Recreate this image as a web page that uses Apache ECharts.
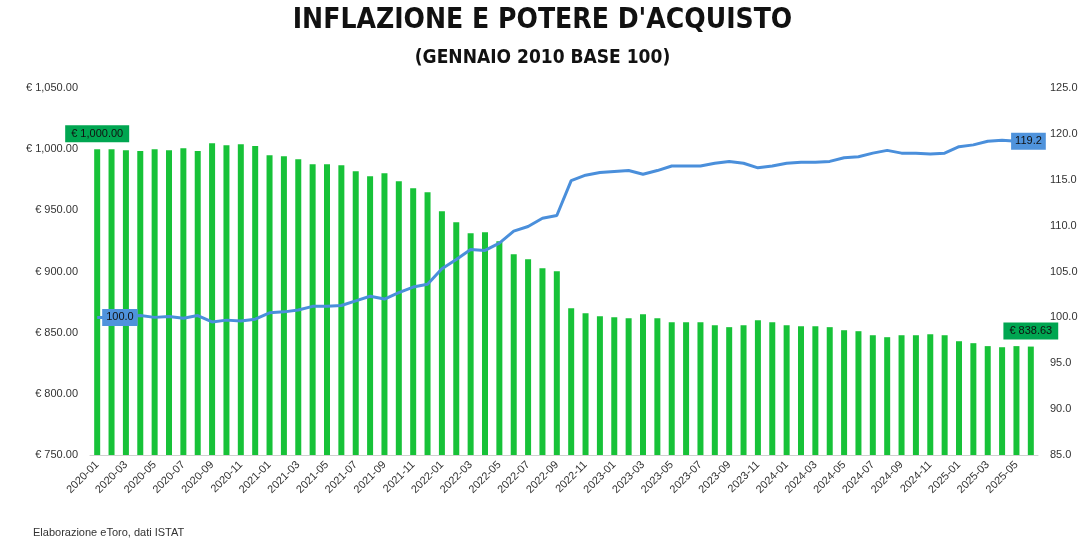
<!DOCTYPE html>
<html><head><meta charset="utf-8">
<script src="https://cdn.jsdelivr.net/npm/echarts@6/dist/echarts.min.js"></script>
<style>html,body{margin:0;padding:0;background:#fff}#c{width:1085px;height:544px}</style>
</head><body><div id="c"></div>
<script>
const startYear = 2020, monthCount = 66;
const categories = [];
for (let i = 0; i < monthCount; i++) {
  const y = startYear + Math.floor(i / 12), m = (i % 12) + 1;
  categories.push(y + '-' + (m < 10 ? '0' + m : m));
}
const purchasingPower = [1000,1000,999.2,998.4,1000,999.2,1000.8,998.4,1004.9,1003.3,1004.1,1002.5,995.1,994.3,991.8,987.7,987.7,986.9,982,977.9,980.4,973.8,968.1,964.8,949.3,940.3,931.3,932,924.8,914.1,910,902.7,900.2,870,865.9,863.5,862.6,861.8,865.1,861.8,858.5,858.5,858.5,856,854.5,856,860.2,858.5,856,855.3,855.3,854.5,852,851.2,847.9,846.3,847.9,847.9,848.7,847.9,843,841.4,839,838.1,839,838.63];
const priceIndex = [100.0,100.0,100.1,100.2,100.0,100.1,99.9,100.2,99.5,99.7,99.6,99.8,100.5,100.6,100.8,101.2,101.2,101.3,101.8,102.3,102.0,102.7,103.3,103.6,105.3,106.3,107.4,107.3,108.1,109.4,109.9,110.8,111.1,114.9,115.5,115.8,115.9,116.0,115.6,116.0,116.5,116.5,116.5,116.8,117.0,116.8,116.3,116.5,116.8,116.9,116.9,117.0,117.4,117.5,117.9,118.2,117.9,117.9,117.8,117.9,118.6,118.8,119.2,119.3,119.2,119.2];
const fmtEur = v => '€ ' + v.toLocaleString('en-US',{minimumFractionDigits:2,maximumFractionDigits:2});
const last = monthCount - 1;
const chart = echarts.init(document.getElementById('c'));
chart.setOption({
  animation:false,
  title:[{text:"INFLAZIONE E POTERE D'ACQUISTO",left:'center',top:2,textStyle:{fontFamily:'DejaVu Sans Condensed',fontWeight:'bold',fontSize:28,color:'#111'}},
         {text:'(GENNAIO 2010 BASE 100)',left:'center',top:44,textStyle:{fontFamily:'DejaVu Sans Condensed',fontWeight:'bold',fontSize:19,color:'#111'}},
         {text:'Elaborazione eToro, dati ISTAT',left:28,top:522,textStyle:{fontFamily:'Liberation Sans',fontWeight:'normal',fontSize:11,color:'#333'}}],
  grid:{left:90,right:47,top:88,bottom:89},
  xAxis:{type:'category',data:categories,boundaryGap:true,
    axisLine:{lineStyle:{color:'#d0d0d0'}},axisTick:{show:false},
    axisLabel:{interval:1,rotate:45,fontFamily:'Liberation Sans',fontSize:11,color:'#333'}},
  yAxis:[{type:'value',min:750,max:1050,interval:50,splitLine:{show:false},axisLine:{show:false},
    axisLabel:{formatter:fmtEur,fontFamily:'Liberation Sans',fontSize:11,color:'#333',margin:12}},
    {type:'value',min:85,max:125,interval:5,splitLine:{show:false},axisLine:{show:false},
    axisLabel:{formatter:v=>v.toFixed(1),fontFamily:'Liberation Sans',fontSize:11,color:'#333',margin:12}}],
  series:[
    {type:'bar',data:purchasingPower.map((v,i)=>{
        const d={value:v};
        if(i===0||i===last) d.label={show:true,position:'top',offset:[0,-2],formatter:p=>fmtEur(p.value),
          backgroundColor:'#00a651',color:'#111',padding:[3,6],fontFamily:'Liberation Sans',fontSize:11};
        return d;}),
      barWidth:6,itemStyle:{color:'#17c238'}},
    {type:'line',yAxisIndex:1,data:priceIndex.map((v,i)=>{
        const d={value:v};
        if(i===0||i===last) d.label={show:true,position:i===0?'right':'left',formatter:p=>p.value.toFixed(1),
          backgroundColor:'#4f93dc',color:'#111',padding:[3,4],fontFamily:'Liberation Sans',fontSize:11,offset:i===0?[0,0]:[20,0]};
        return d;}),
      symbol:'circle',symbolSize:0.01,showSymbol:true,lineStyle:{color:'#4a8fdb',width:3},itemStyle:{color:'#4a8fdb'}}
  ]
});
</script></body></html>
